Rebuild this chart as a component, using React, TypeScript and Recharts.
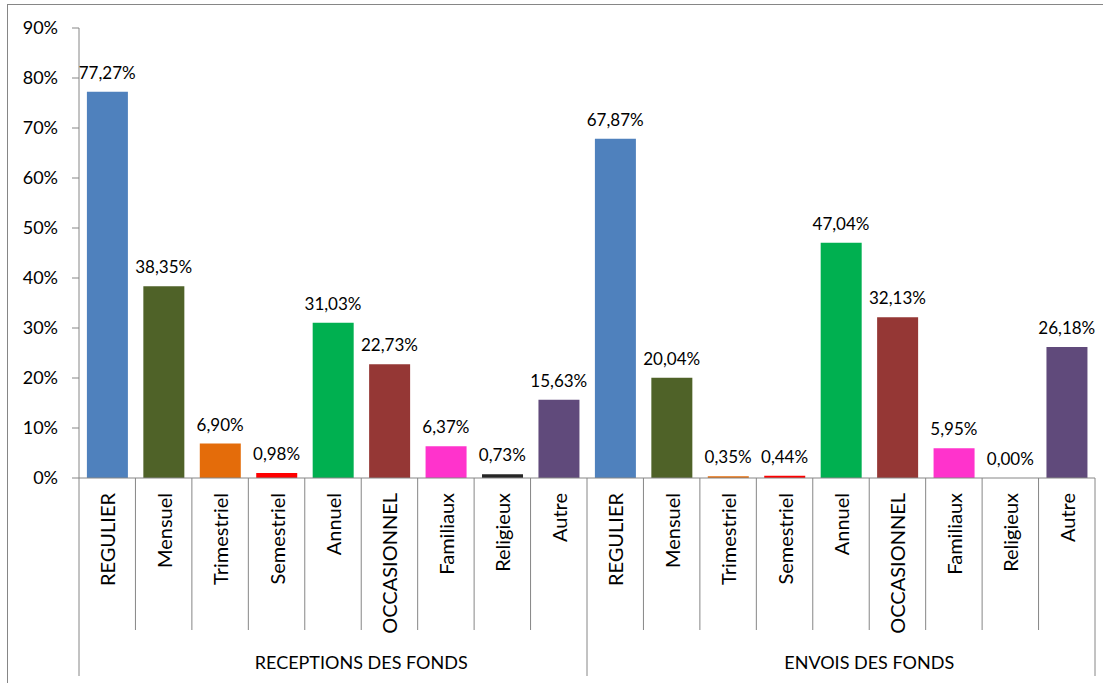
import { Bar, Cell, ComposedChart, LabelList, Line, XAxis, YAxis } from "recharts";

const categories = [
  "REGULIER",
  "Mensuel",
  "Trimestriel",
  "Semestriel",
  "Annuel",
  "OCCASIONNEL",
  "Familiaux",
  "Religieux",
  "Autre",
];
const groups = ["RECEPTIONS DES FONDS", "ENVOIS DES FONDS"];
const receptions = [77.27, 38.35, 6.9, 0.98, 31.03, 22.73, 6.37, 0.73, 15.63];
const envois = [67.87, 20.04, 0.35, 0.44, 47.04, 32.13, 5.95, 0.0, 26.18];
const colors = [
  "#4f81bd",
  "#4f6228",
  "#e46c0a",
  "#ff0000",
  "#00b050",
  "#953735",
  "#ff33cc",
  "#262626",
  "#604a7b",
];
const yTicks = [0, 10, 20, 30, 40, 50, 60, 70, 80, 90];

const rows = [receptions, envois].flatMap((values, g) =>
  values.map((value, i) => ({
    id: `${g}-${i}`,
    name: categories[i],
    group: groups[g],
    color: colors[i],
    value,
  })),
);

const CHART_W = 1095;
const CHART_H = 678;
const MARGIN = { top: 23, right: 8, bottom: 7, left: 0 };
const Y_WIDTH = 71;
const X_HEIGHT = 198;
const CAT_H = 152;
const BAND = (CHART_W - MARGIN.left - MARGIN.right - Y_WIDTH) / rows.length;
const AXIS = "#868686";
const FONT = "Lato, 'Open Sans', sans-serif";

const fmt = (v: number) => `${v.toFixed(2).replace(".", ",")}%`;

function CategoryTick(props: any) {
  const { x, y, index } = props;
  const row = rows[index];
  const half = BAND / 2;
  const pos = index % categories.length;
  return (
    <g>
      <line
        stroke={AXIS}
        x1={x - half}
        x2={x - half}
        y1={y}
        y2={y + (pos === 0 ? X_HEIGHT : CAT_H)}
      />
      {index === rows.length - 1 && (
        <line stroke={AXIS} x1={x + half} x2={x + half} y1={y} y2={y + X_HEIGHT} />
      )}
      <text
        dominantBaseline="central"
        fill="#000"
        fontFamily={FONT}
        fontSize={20}
        textAnchor="end"
        transform={`translate(${x},${y + 15}) rotate(-90)`}
      >
        {row.name}
      </text>
      {pos === 4 && (
        <text
          dominantBaseline="central"
          fill="#000"
          fontFamily={FONT}
          fontSize={18}
          textAnchor="middle"
          x={x + half}
          y={y + 184}
        >
          {row.group}
        </text>
      )}
    </g>
  );
}

export default function App() {
  return (
    <div
      style={{
        position: "absolute",
        left: 7,
        top: 4,
        width: CHART_W + 1,
        height: CHART_H + 1,
        boxSizing: "border-box",
        borderLeft: `1px solid ${AXIS}`,
        borderTop: `1px solid ${AXIS}`,
        background: "#fff",
      }}
    >
      <ComposedChart
        barCategoryGap="14%"
        data={rows}
        height={CHART_H}
        margin={MARGIN}
        width={CHART_W}
      >
        <XAxis
          axisLine={{ stroke: AXIS }}
          dataKey="id"
          height={X_HEIGHT}
          interval={0}
          tick={<CategoryTick />}
          tickLine={false}
          tickMargin={0}
          tickSize={0}
        />
        <YAxis
          axisLine={{ stroke: AXIS }}
          domain={[0, 90]}
          tick={{ fill: "#000", fontFamily: FONT, fontSize: 18 }}
          tickFormatter={(v: number) => `${v}%`}
          tickLine={{ stroke: AXIS }}
          tickMargin={14}
          tickSize={7}
          ticks={yTicks}
          width={Y_WIDTH}
        />
        <Bar dataKey="value" isAnimationActive={false}>
          {rows.map((r) => (
            <Cell fill={r.color} key={r.id} />
          ))}
        </Bar>
        {/* invisible line, only carries the value labels (so 0,00% shows too) */}
        <Line
          activeDot={false}
          dataKey="value"
          dot={false}
          isAnimationActive={false}
          stroke="none"
        >
          <LabelList
            dataKey="value"
            fill="#000"
            fontFamily={FONT}
            fontSize={17}
            formatter={(v: any) => fmt(Number(v))}
            offset={13}
            position="top"
          />
        </Line>
      </ComposedChart>
    </div>
  );
}
